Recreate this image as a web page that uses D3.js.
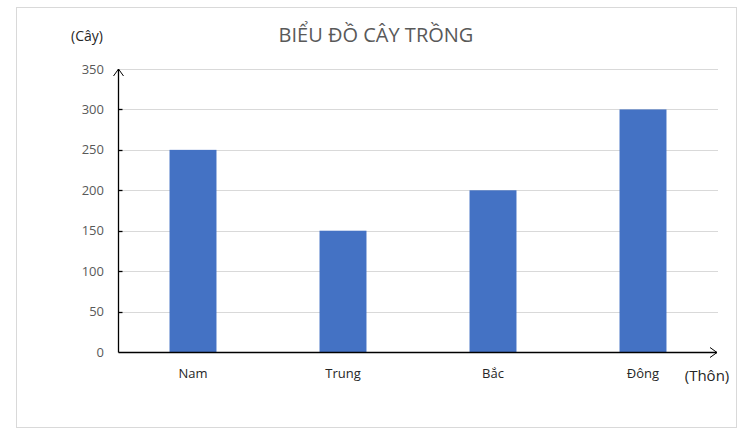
<!DOCTYPE html>
<html>
<head>
<meta charset="utf-8">
<script src="https://cdn.jsdelivr.net/npm/d3@7"></script>
<style>
  body { margin: 0; background: #fff; }
  text { font-family: "Open Sans", "Noto Sans", sans-serif; }
</style>
</head>
<body>
<svg id="mainSVG"></svg>
<script>
let villages = ["Nam", "Trung", "Bắc", "Đông"]
let trees = [250, 150, 200, 300]
let yTicks = [0, 50, 100, 150, 200, 250, 300, 350]

let w = 745, h = 439
let m = {t: 69, r: 27, b: 87, l: 118}

let svg = d3.select('#mainSVG').attr('width', w).attr('height', h)

// chart frame
svg.append('rect')
    .attr('x', 16.5).attr('y', 7.5)
    .attr('width', 720).attr('height', 420)
    .attr('fill', '#fff')
    .attr('stroke', '#d9d9d9')

let x = d3.scaleBand()
    .domain(villages)
    .range([m.l, w - m.r])
    .paddingInner(0.687)
    .paddingOuter(0.3435)

let y = d3.scaleLinear()
    .domain([0, 350])
    .range([h - m.b, m.t])

// gridlines
svg.append('g')
    .selectAll('line')
    .data(yTicks.filter(d => d > 0))
    .join('line')
    .attr('x1', m.l).attr('x2', w - m.r)
    .attr('y1', d => Math.round(y(d)) + 0.5)
    .attr('y2', d => Math.round(y(d)) + 0.5)
    .attr('stroke', '#d9d9d9')

// bars
svg.append('g')
    .selectAll('rect')
    .data(trees)
    .join('rect')
    .attr('x', (d, i) => x(villages[i]))
    .attr('y', d => y(d))
    .attr('width', x.bandwidth())
    .attr('height', d => y(0) - y(d))
    .attr('fill', '#4472c4')

// y tick labels
svg.append('g')
    .selectAll('text')
    .data(yTicks)
    .join('text')
    .attr('x', 104)
    .attr('y', d => y(d))
    .attr('dy', '0.35em')
    .attr('text-anchor', 'end')
    .attr('font-size', 13)
    .attr('fill', '#595959')
    .text(d => d)

// x labels
svg.append('g')
    .selectAll('text')
    .data(villages)
    .join('text')
    .attr('x', d => x(d) + x.bandwidth() / 2)
    .attr('y', 378)
    .attr('text-anchor', 'middle')
    .attr('font-size', 13)
    .attr('fill', '#262626')
    .text(d => d)

// axes with arrows
let axisX = Math.round(m.l) + 0.5
let baseY = Math.round(y(0)) + 0.5
let axes = svg.append('g').attr('stroke', '#000').attr('fill', 'none').attr('stroke-width', 1.3)
axes.append('line').attr('x1', axisX).attr('x2', axisX).attr('y1', baseY).attr('y2', y(350))
axes.append('path').attr('d', `M${axisX - 5},${y(350) + 7}L${axisX},${y(350)}L${axisX + 5},${y(350) + 7}`)
    .attr('stroke-width', 1)
axes.append('line').attr('x1', axisX).attr('x2', 717).attr('y1', baseY).attr('y2', baseY)
axes.append('path').attr('d', `M710,${baseY - 5}L717,${baseY}L710,${baseY + 5}`)
    .attr('stroke-width', 1)
// y tick marks
axes.selectAll('.tick')
    .data(yTicks.filter(d => d > 0 && d < 350))
    .join('line')
    .attr('x1', axisX).attr('x2', axisX + 4)
    .attr('y1', d => Math.round(y(d)) + 0.5)
    .attr('y2', d => Math.round(y(d)) + 0.5)

// title and axis names
svg.append('text')
    .attr('x', 376).attr('y', 42)
    .attr('text-anchor', 'middle')
    .attr('font-size', 20)
    .attr('fill', '#595959')
    .text('BIỂU ĐỒ CÂY TRỒNG')

svg.append('text')
    .attr('x', 87).attr('y', 41)
    .attr('text-anchor', 'middle')
    .attr('font-size', 14)
    .attr('fill', '#262626')
    .text('(Cây)')

svg.append('text')
    .attr('x', 707).attr('y', 381)
    .attr('text-anchor', 'middle')
    .attr('font-size', 15)
    .attr('fill', '#262626')
    .text('(Thôn)')
</script>
</body>
</html>
